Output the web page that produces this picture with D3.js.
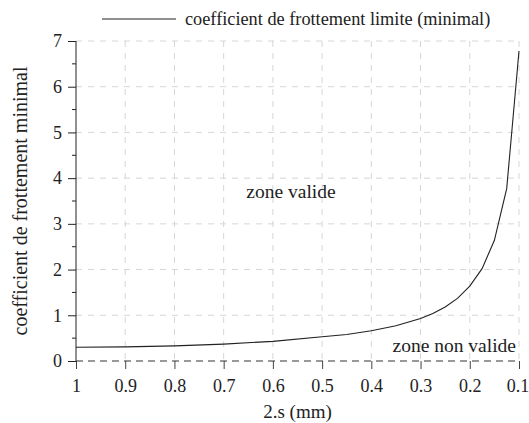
<!DOCTYPE html>
<html>
<head>
<meta charset="utf-8">
<script src="https://cdn.jsdelivr.net/npm/d3@7"></script>
<style>
  html, body { margin: 0; padding: 0; background: #fff; }
</style>
</head>
<body>
<svg id="chart" width="529" height="423"></svg>
<script>
// ---- data ----
const xValues = [1, 0.9, 0.8, 0.7, 0.6, 0.5, 0.45, 0.4, 0.35, 0.3, 0.275, 0.25, 0.225, 0.2, 0.175, 0.15, 0.125, 0.1];
const muValues = [0.30, 0.31, 0.33, 0.37, 0.43, 0.53, 0.58, 0.66, 0.77, 0.93, 1.04, 1.18, 1.37, 1.64, 2.02, 2.64, 3.77, 6.78];
const xTicks = [1, 0.9, 0.8, 0.7, 0.6, 0.5, 0.4, 0.3, 0.2, 0.1];
const yTicks = [0, 1, 2, 3, 4, 5, 6, 7];
const yMinorTicks = [0.5, 1.5, 2.5, 3.5, 4.5, 5.5, 6.5];
const seriesName = "coefficient de frottement limite (minimal)";
const xTitle = "2.s (mm)";
const yTitle = "coefficient de frottement minimal";
const zoneLabels = ["zone valide", "zone non valide"];

// ---- layout ----
const FONT = "'Liberation Serif'";
const svg = d3.select("#chart");
const pL = 76, pR = 519, pT = 41, pB = 361;
const x = d3.scaleLinear().domain([1, 0.1]).range([pL, pR]);
const y = d3.scaleLinear().domain([0, 7]).range([pB, pT]);

// grid
const grid = svg.append("g");
grid.selectAll("line.h").data(yTicks.filter(d => d > 0)).join("line")
  .attr("x1", pL).attr("x2", pR)
  .attr("y1", d => y(d)).attr("y2", d => y(d))
  .attr("stroke", "#d6d6d6").attr("stroke-width", 1).attr("stroke-dasharray", "6,6");
grid.selectAll("line.v").data(xTicks.filter(d => d !== 1)).join("line")
  .attr("x1", d => x(d)).attr("x2", d => x(d))
  .attr("y1", pT).attr("y2", pB)
  .attr("stroke", "#d6d6d6").attr("stroke-width", 1).attr("stroke-dasharray", "6,6");

// x axis (dashed zero line + ticks)
const xAxis = d3.axisBottom(x).tickValues(xTicks).tickFormat(d3.format("")).tickSize(8).tickPadding(10);
const gx = svg.append("g").attr("transform", `translate(0,${pB})`).call(xAxis);
gx.attr("font-family", null).style("font-family", FONT);
gx.select(".domain").remove();
gx.selectAll(".tick line").attr("stroke", "#444");
gx.selectAll(".tick text").attr("font-size", 18).style("font-family", FONT).attr("fill", "#222")
  .attr("dx", d => d === 0.1 ? -1.5 : 0);
svg.append("line")
  .attr("x1", pL).attr("x2", pR).attr("y1", y(0)).attr("y2", y(0))
  .attr("stroke", "#333").attr("stroke-width", 1).attr("stroke-dasharray", "7,5");

// y axis
const yAxis = d3.axisLeft(y).tickValues(yTicks).tickFormat(d3.format("d")).tickSize(8).tickPadding(6);
const gy = svg.append("g").attr("transform", `translate(${pL},0)`).call(yAxis);
gy.attr("font-family", null).style("font-family", FONT);
gy.select(".domain").attr("d", `M0,${pT}V${pB}`).attr("stroke", "#222");
gy.selectAll(".tick line").attr("stroke", "#222");
gy.selectAll(".tick text").attr("font-size", 18).style("font-family", FONT).attr("fill", "#222");
svg.append("g").selectAll("line").data(yMinorTicks).join("line")
  .attr("x1", pL - 4).attr("x2", pL)
  .attr("y1", d => y(d)).attr("y2", d => y(d))
  .attr("stroke", "#222");

// curve
const data = xValues.map((v, i) => ({ x: v, y: muValues[i] }));
svg.append("path").datum(data)
  .attr("fill", "none").attr("stroke", "#222").attr("stroke-width", 1.1)
  .attr("d", d3.line().x(d => x(d.x)).y(d => y(d.y)));

function txt(xp, yp, anchor, s, size) {
  return svg.append("text").attr("x", xp).attr("y", yp).attr("text-anchor", anchor)
    .attr("font-size", size).attr("fill", "#222").style("font-family", FONT).text(s);
}

// zone labels
txt(291, 198, "middle", zoneLabels[0], 19.5);
txt(516, 352, "end", zoneLabels[1], 19.5);

// axis titles
txt((pL + pR) / 2, 418, "middle", xTitle, 19);
svg.append("text").attr("transform", `translate(27,${(pT + pB) / 2}) rotate(-90)`)
  .attr("text-anchor", "middle").attr("font-size", 20).attr("fill", "#222")
  .style("font-family", FONT).text(yTitle);

// legend
svg.append("line").attr("x1", 102).attr("x2", 176).attr("y1", 19).attr("y2", 19)
  .attr("stroke", "#222").attr("stroke-width", 1.1);
txt(185, 25, "start", seriesName, 18.3);
</script>
</body>
</html>
